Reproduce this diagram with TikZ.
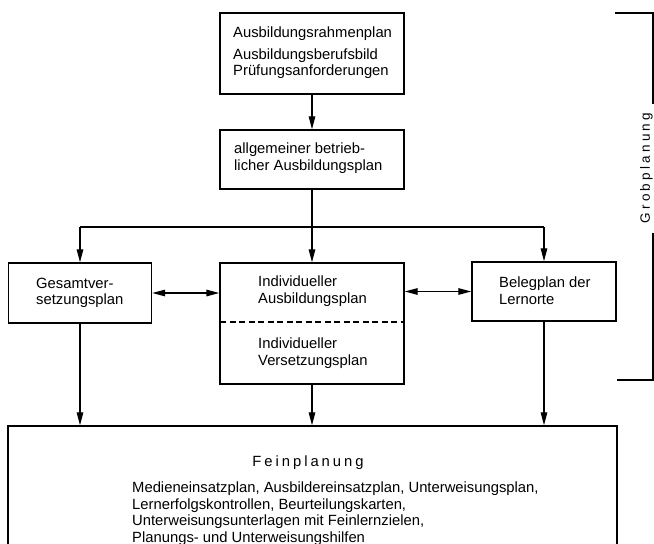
\documentclass[tikz,border=0pt]{standalone}
\usepackage{fontspec}
\setmainfont{Liberation Sans}
\newfontfamily\spacedfont[LetterSpace=20]{Liberation Sans}
\newfontfamily\grobfont[LetterSpace=24]{Liberation Sans}
\usetikzlibrary{arrows.meta}
\begin{document}
\begin{tikzpicture}[x=1pt,y=-1pt,
  box/.style={draw, line width=1.4pt, inner sep=0pt},
  lbl/.style={anchor=west, align=left, inner sep=0pt, font=\fontsize{14.8}{16.5}\selectfont},
  conn/.style={line width=1.35pt},
  arr/.style={conn, -{Triangle[length=13pt,width=6.5pt]}},
  darr/.style={conn, {Triangle[length=13pt,width=6.5pt]}-{Triangle[length=13pt,width=6.5pt]}},
]
\useasboundingbox (0,0) rectangle (654,544);
% boxes
\node[box, minimum width=184pt, minimum height=81pt] (b1) at (312,53.5) {};
\node[box, minimum width=184pt, minimum height=59pt] (b2) at (312,159.5) {};
\node[box, minimum width=143pt, minimum height=60pt] (ges) at (80,293) {};
\node[box, minimum width=184pt, minimum height=121pt] (ind) at (312,323.5) {};
\node[box, minimum width=144pt, minimum height=59pt] (bel) at (544,291.5) {};
\node[box, minimum width=609pt, minimum height=124pt] (fein) at (312.5,488) {};
% texts
\node[lbl] (t1) at (233,53) {Ausbildungsrahmenplan\\[5pt]Ausbildungsberufsbild\\Prüfungsanforderungen};
\node[lbl] (t2) at (234,158) {allgemeiner betrieb-\\licher Ausbildungsplan};
\node[lbl] (tges) at (36,293) {Gesamtver-\\setzungsplan};
\node[lbl] (tinda) at (258,291) {Individueller\\Ausbildungsplan};
\node[lbl] (tindb) at (258,353) {Individueller\\Versetzungsplan};
\node[lbl] (tbel) at (499,290.5) {Belegplan der\\Lernorte};
\node[inner sep=0pt, font=\fontsize{14.8}{16.5}\spacedfont] (tfein) at (308,463) {Feinplanung};
\node[lbl] (tfeinb) at (132,513.5) {Medieneinsatzplan, Ausbildereinsatzplan, Unterweisungsplan,\\Lernerfolgskontrollen, Beurteilungskarten,\\Unterweisungsunterlagen mit Feinlernzielen,\\Planungs- und Unterweisungshilfen};
\node[inner sep=0pt, rotate=90, font=\fontsize{13.5}{15}\grobfont] (grob) at (646.5,168) {Grobplanung};
% dashed divider
\coordinate (dl) at (220,322);
\coordinate (dr) at (404,322);
\draw[conn, dash pattern=on 6pt off 3.5pt] (dl) -- (dr);
% connectors
\draw[arr] (b1.south) -- (b2.north);
\draw[arr] (b2.south) -- (ind.north);
\coordinate (jl) at (80,227);
\coordinate (jr) at (544,227);
\draw[conn] (jl) -- (jr);
\draw[arr] (jl) -- (ges.north);
\draw[arr] (jr) -- (bel.north);
\draw[darr] (ges.east |- 0,293) -- (ind.west |- 0,293);
\draw[darr] (ind.east |- 0,291.5) -- (bel.west |- 0,291.5);
\draw[arr] (ges.south) -- (ges.south |- fein.north);
\draw[arr] (ind.south) -- (ind.south |- fein.north);
\draw[arr] (bel.south) -- (bel.south |- fein.north);
% bracket
\coordinate (g1) at (615,13);
\coordinate (g2) at (653,13);
\coordinate (g3) at (653,104);
\coordinate (g4) at (653,233);
\coordinate (g5) at (653,380);
\coordinate (g6) at (617,380);
\draw[conn] (g1) -- (g2) -- (g3);
\draw[conn] (g4) -- (g5) -- (g6);
\end{tikzpicture}
\end{document}
